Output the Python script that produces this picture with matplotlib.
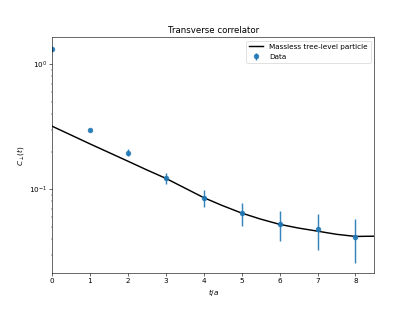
import numpy as np
import matplotlib
matplotlib.use("Agg")
import matplotlib.pyplot as plt

# tree-level curve
curve_t = [0, 0.5, 1, 1.5, 2, 2.5, 3, 3.5, 4, 4.5, 5, 5.5, 6, 6.5, 7, 7.5, 8, 8.5]
curve_c = [0.320, 0.272, 0.231, 0.197, 0.168, 0.143, 0.1225, 0.1025, 0.0858,
           0.0740, 0.0646, 0.0578, 0.0525, 0.0490, 0.0463, 0.0437, 0.0420, 0.0422]

# lattice data
t_data = [0, 1, 2, 3, 4, 5, 6, 7, 8]
c_data = [1.32, 0.30, 0.197, 0.1225, 0.0858, 0.0646, 0.0525, 0.0485, 0.0416]
c_err = [0.02, 0.006, 0.012, 0.013, 0.013, 0.0135, 0.014, 0.0155, 0.0158]

fig = plt.figure(figsize=(8, 6), dpi=52)
fig.subplots_adjust(bottom=0.124)
ax = fig.add_subplot(111)
ax.plot(curve_t, curve_c, color='black', lw=2, label='Massless tree-level particle')
ax.errorbar(t_data, c_data, yerr=c_err, fmt='o', ms=6.5, elinewidth=2, alpha=0.9, label='Data')
ax.set_yscale('log')
ax.set_xlim(0, 8.5)
ax.set_ylim(0.0213, 1.64)
ax.set_title('Transverse correlator')
ax.set_xlabel('$t/a$')
ax.set_ylabel(r'$C_\perp(t)$')
ax.legend(loc='upper right')
fig.savefig('out.png')
